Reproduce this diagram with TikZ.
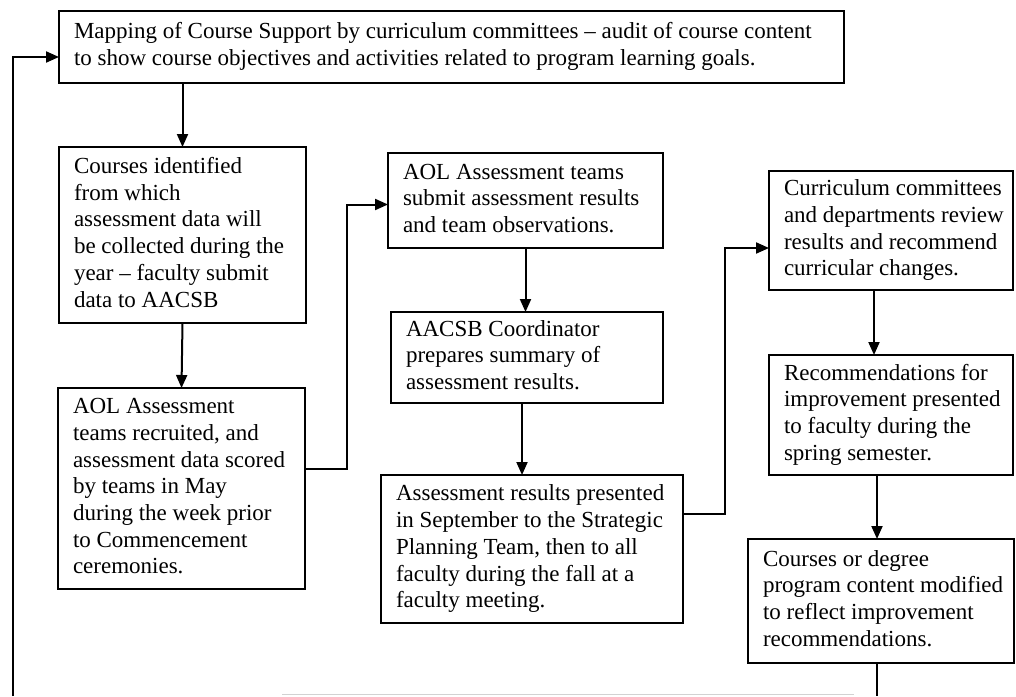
\documentclass[tikz,border=0pt]{standalone}
\usepackage{fontspec}
\setmainfont{Liberation Serif}
\usetikzlibrary{arrows.meta}

% fixed-width, left-aligned block of explicit lines
\newcommand{\boxlines}[2]{\makebox[#1][l]{\begin{tabular}{@{}l@{}}#2\end{tabular}}}

\begin{document}
\begin{tikzpicture}[x=1pt,y=-1pt,
  stage/.style={draw=black, line width=1.5pt, anchor=north west,
    inner xsep=15pt, inner ysep=0pt, outer sep=0pt,
    font=\fontsize{23}{26.7}\selectfont},
  link/.style={line width=2pt, -{Triangle[length=13pt,width=11pt]}},
  plain/.style={line width=2pt}]

\fill[white] (0,0) rectangle (1016,696);
\useasboundingbox (0,0) rectangle (1016,696);

\node[stage, minimum width=785pt, minimum height=72pt] (top) at (59,11)
  {\boxlines{755pt}{Mapping of Course Support by curriculum committees -- audit of course content\\
   to show course objectives and activities related to program learning goals.}};

\node[stage, minimum width=247pt, minimum height=176pt] (c2) at (59,147)
  {\boxlines{217pt}{Courses identified\\ from which\\ assessment data will\\ be collected during the\\ year -- faculty submit\\ data to AACSB}};

\node[stage, minimum width=247pt, minimum height=201pt] (c3) at (58,388)
  {\boxlines{217pt}{AOL Assessment\\ teams recruited, and\\ assessment data scored\\ by teams in May\\ during the week prior\\ to Commencement\\ ceremonies.}};

\node[stage, minimum width=275pt, minimum height=95pt] (c4) at (388,153)
  {\boxlines{245pt}{AOL Assessment teams\\ submit assessment results\\ and team observations.}};

\node[stage, minimum width=272pt, minimum height=91pt] (c5) at (391,312)
  {\boxlines{242pt}{AACSB Coordinator\\ prepares summary of\\ assessment results.}};

\node[stage, minimum width=302pt, minimum height=148pt] (c6) at (381,475)
  {\boxlines{272pt}{Assessment results presented\\ in September to the Strategic\\ Planning Team, then to all\\ faculty during the fall at a\\ faculty meeting.}};

\node[stage, minimum width=244pt, minimum height=119pt] (c7) at (769,171)
  {\boxlines{214pt}{Curriculum committees\\ and departments review\\ results and recommend\\ curricular changes.}};

\node[stage, minimum width=244pt, minimum height=120pt] (c8) at (769,355)
  {\boxlines{214pt}{Recommendations for\\ improvement presented\\ to faculty during the\\ spring semester.}};

\node[stage, minimum width=266pt, minimum height=124pt] (c9) at (748,539)
  {\boxlines{236pt}{Courses or degree\\ program content modified\\ to reflect improvement\\ recommendations.}};

% loose ends running off the lower edge
\coordinate (loopin) at (13,696);
\coordinate (loopout) at (877,696);

% connectors
\draw[link] (top.south -| c2.north) -- (c2.north);
\draw[link] (c2.south) -- (c3.north);
\draw[link] ([yshift=20pt]c3.east) -- ++(42,0) |- ([yshift=-4pt]c4.west);
\draw[link] (c4.south) -- (c4.south |- c5.north);
\draw[link] ([xshift=-5pt]c5.south) -- ([xshift=-5pt]c5.south |- c6.north);
\draw[link] ([yshift=35pt]c6.east) -- ++(42,0) |- ([yshift=-17.5pt]c7.west);
\draw[link] ([xshift=-17pt]c7.south) -- ([xshift=-17pt]c7.south |- c8.north);
\draw[link] ([xshift=-14pt]c8.south) -- ([xshift=-14pt]c8.south |- c9.north);
\draw[plain] ([xshift=-4pt]c9.south) -- (loopout);
\draw[link] (loopin) |- ([yshift=-10pt]top.west);

% edge of the next stage, cut by the lower border
\draw[gray!35, line width=1pt] (282,694.5) -- (854,694.5);
\end{tikzpicture}
\end{document}
